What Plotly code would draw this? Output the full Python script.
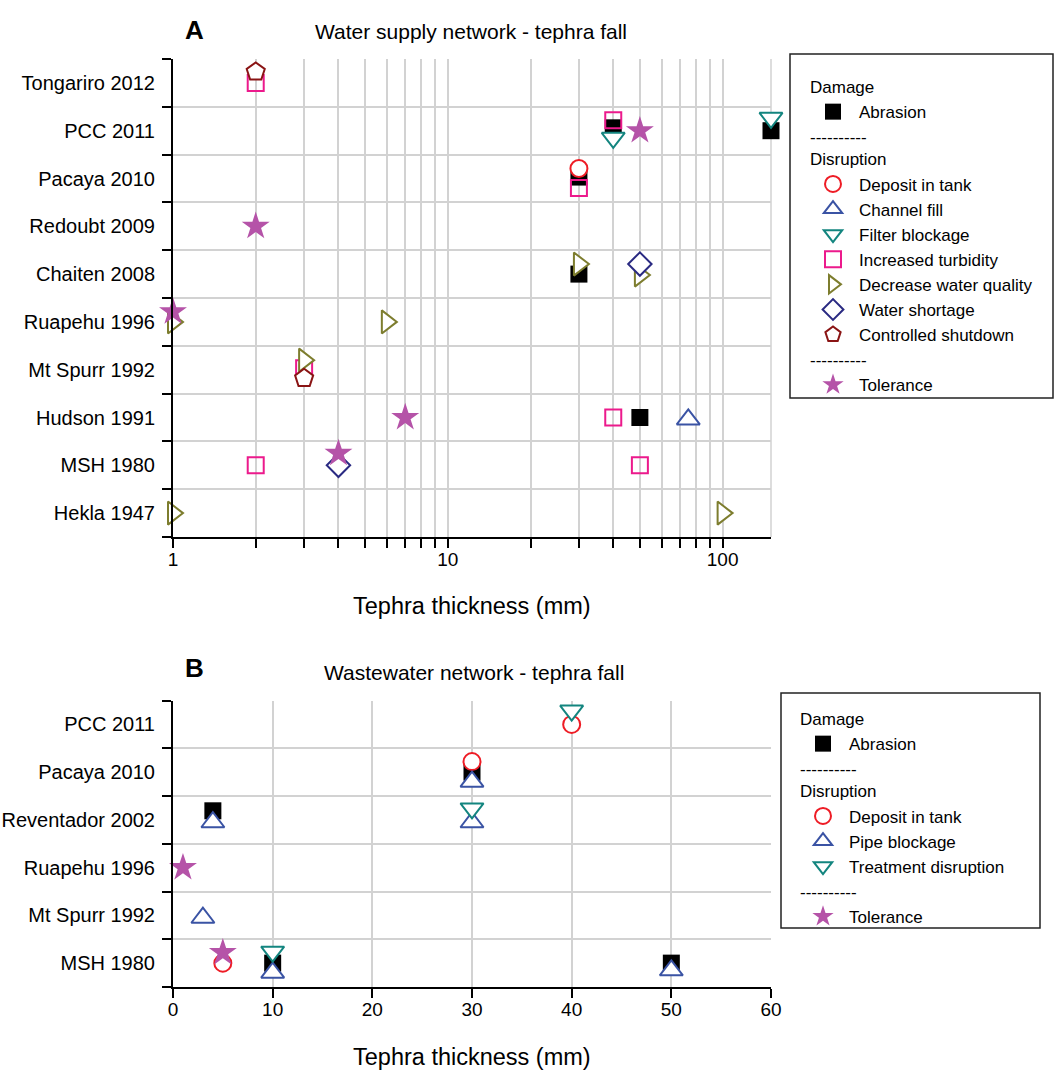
import plotly.graph_objects as go
import numpy as np

# ---------------- data ----------------
# Panel A: water supply network, tephra fall
events_a = ["Tongariro 2012", "PCC 2011", "Pacaya 2010", "Redoubt 2009", "Chaiten 2008",
            "Ruapehu 1996", "Mt Spurr 1992", "Hudson 1991", "MSH 1980", "Hekla 1947"]

abrasion_a_events = ["PCC 2011", "PCC 2011", "Pacaya 2010", "Chaiten 2008", "Hudson 1991"]
abrasion_a_mm = [40, 150, 30, 30, 50]

deposit_a_events = ["Pacaya 2010"]
deposit_a_mm = [30]

channel_a_events = ["Hudson 1991"]
channel_a_mm = [75]

filter_a_events = ["PCC 2011", "PCC 2011"]
filter_a_mm = [40, 150]

turbidity_a_events = ["Tongariro 2012", "PCC 2011", "Pacaya 2010", "Mt Spurr 1992",
                      "Hudson 1991", "MSH 1980", "MSH 1980"]
turbidity_a_mm = [2, 40, 30, 3, 40, 2, 50]

quality_a_events = ["Chaiten 2008", "Chaiten 2008", "Ruapehu 1996", "Ruapehu 1996",
                    "Mt Spurr 1992", "Hekla 1947", "Hekla 1947"]
quality_a_mm = [30, 50, 1, 6, 3, 1, 100]

shortage_a_events = ["Chaiten 2008", "MSH 1980"]
shortage_a_mm = [50, 4]

shutdown_a_events = ["Tongariro 2012", "Mt Spurr 1992"]
shutdown_a_mm = [2, 3]

tolerance_a_events = ["PCC 2011", "Redoubt 2009", "Ruapehu 1996", "Hudson 1991", "MSH 1980"]
tolerance_a_mm = [50, 2, 1, 7, 4]

# Panel B: wastewater network, tephra fall
events_b = ["PCC 2011", "Pacaya 2010", "Reventador 2002", "Ruapehu 1996", "Mt Spurr 1992", "MSH 1980"]

abrasion_b_events = ["Pacaya 2010", "Reventador 2002", "MSH 1980", "MSH 1980"]
abrasion_b_mm = [30, 4, 10, 50]

deposit_b_events = ["PCC 2011", "Pacaya 2010", "MSH 1980"]
deposit_b_mm = [40, 30, 5]

pipe_b_events = ["Pacaya 2010", "Reventador 2002", "Reventador 2002", "Mt Spurr 1992",
                 "MSH 1980", "MSH 1980"]
pipe_b_mm = [30, 4, 30, 3, 10, 50]

treatment_b_events = ["PCC 2011", "Reventador 2002", "MSH 1980"]
treatment_b_mm = [40, 30, 10]

tolerance_b_events = ["Ruapehu 1996", "MSH 1980"]
tolerance_b_mm = [1, 5]

xlabels_a = [1, 10, 100]
xticks_b = [0, 10, 20, 30, 40, 50, 60]

# ---------------- layout helpers ----------------
# vertical dodge (fraction of a row) so coincident symbols stay readable
dodge_a = {
    "abrasion": [0.06, 0.0, 0.03, 0.0, 0.0],
    "deposit": [0.21],
    "channel": [-0.04],
    "filter": [-0.15, 0.27],
    "turbidity": [0.0, 0.22, -0.2, 0.03, 0.0, 0.0, 0.0],
    "quality": [0.21, -0.02, 0.0, 0.0, 0.2, 0.0, 0.0],
    "shortage": [0.21, 0.0],
    "shutdown": [0.23, -0.18],
    "tolerance": [0.0, 0.0, 0.21, 0.0, 0.25],
}
dodge_b = {
    "abrasion": [0.0, 0.19, 0.0, 0.0],
    "deposit": [0.0, 0.22, 0.0],
    "pipe": [-0.2, -0.05, -0.05, -0.05, -0.2, -0.15],
    "treatment": [0.29, 0.24, 0.24],
    "tolerance": [0.0, 0.22],
}

FONT = "Liberation Sans, Arial, Helvetica, sans-serif"
W, H = 1055, 1072

style = {
    "abrasion": dict(symbol="square", size=17, color="#000000", line=dict(width=0)),
    "deposit": dict(symbol="circle", size=17, color="white", line=dict(color="#ee1c25", width=2)),
    "channel": dict(symbol="triangle-up", size=20, color="white", line=dict(color="#3a53a4", width=2)),
    "filter": dict(symbol="triangle-down", size=20, color="white", line=dict(color="#13857f", width=2)),
    "turbidity": dict(symbol="square-open", size=16, color="#ec1a8c", line=dict(color="#ec1a8c", width=2)),
    "quality": dict(symbol="triangle-right", size=20, color="white", line=dict(color="#7d7d2e", width=2)),
    "shortage": dict(symbol="diamond", size=18, color="white", line=dict(color="#2a2a82", width=2)),
    "shutdown": dict(symbol="pentagon", size=19, color="white", line=dict(color="#8a1414", width=2)),
    "tolerance": dict(symbol="star", size=21, color="#b553a8", line=dict(width=0)),
}

LEG_FONT = 17


def row_pos(events, names, dodge):
    n = len(events)
    return [n - events.index(e) - 0.5 + d for e, d in zip(names, dodge)]


fig = go.Figure()


def add(names, mm, events, dodge, key, label, axes, legend, group, gtitle=None):
    xa, ya = axes
    tr = go.Scatter(
        x=mm, y=row_pos(events, names, dodge), mode="markers", name=label,
        marker=style[key], xaxis=xa, yaxis=ya, legend=legend,
        legendgroup=legend + group, cliponaxis=False, hoverinfo="skip",
    )
    if gtitle is not None:
        tr.legendgrouptitle = dict(text=gtitle, font=dict(family=FONT, size=LEG_FONT, color="black"))
    fig.add_trace(tr)


axA = ("x", "y")
add(abrasion_a_events, abrasion_a_mm, events_a, dodge_a["abrasion"], "abrasion", "Abrasion", axA, "legend", "dam", "Damage")
add(deposit_a_events, deposit_a_mm, events_a, dodge_a["deposit"], "deposit", "Deposit in tank", axA, "legend", "dis", "----------<br>Disruption")
add(channel_a_events, channel_a_mm, events_a, dodge_a["channel"], "channel", "Channel fill", axA, "legend", "dis")
add(filter_a_events, filter_a_mm, events_a, dodge_a["filter"], "filter", "Filter blockage", axA, "legend", "dis")
add(turbidity_a_events, turbidity_a_mm, events_a, dodge_a["turbidity"], "turbidity", "Increased turbidity", axA, "legend", "dis")
add(quality_a_events, quality_a_mm, events_a, dodge_a["quality"], "quality", "Decrease water quality", axA, "legend", "dis")
add(shortage_a_events, shortage_a_mm, events_a, dodge_a["shortage"], "shortage", "Water shortage", axA, "legend", "dis")
add(shutdown_a_events, shutdown_a_mm, events_a, dodge_a["shutdown"], "shutdown", "Controlled shutdown", axA, "legend", "dis")
add(tolerance_a_events, tolerance_a_mm, events_a, dodge_a["tolerance"], "tolerance", "Tolerance", axA, "legend", "tol", "----------")

axB = ("x2", "y2")
add(abrasion_b_events, abrasion_b_mm, events_b, dodge_b["abrasion"], "abrasion", "Abrasion", axB, "legend2", "dam", "Damage")
add(deposit_b_events, deposit_b_mm, events_b, dodge_b["deposit"], "deposit", "Deposit in tank", axB, "legend2", "dis", "----------<br>Disruption")
add(pipe_b_events, pipe_b_mm, events_b, dodge_b["pipe"], "channel", "Pipe blockage", axB, "legend2", "dis")
add(treatment_b_events, treatment_b_mm, events_b, dodge_b["treatment"], "filter", "Treatment disruption", axB, "legend2", "dis")
add(tolerance_b_events, tolerance_b_mm, events_b, dodge_b["tolerance"], "tolerance", "Tolerance", axB, "legend2", "tol", "----------")

# ---------------- axes ----------------
L, R = 173, 771
A_TOP, A_BOT = 59, 537
B_TOP, B_BOT = 700.5, 987
xdom = [L / W, R / W]
grid = "#d2d2d2"

# log ticks: every integer multiple within each decade, labelled at the decades only
log_ticks = [m * 10 ** p for p in range(2) for m in range(1, 10)] + [100]
log_text = [str(v) if v in xlabels_a else "" for v in log_ticks]

common_x = dict(ticks="outside", ticklen=9, tickwidth=1.5, tickcolor="black",
                showgrid=True, gridcolor=grid, gridwidth=1.5,
                showline=True, linecolor="black", linewidth=2, zeroline=False,
                tickfont=dict(size=19), automargin=False, fixedrange=True,
                ticklabelstandoff=-5)
common_y = dict(ticks="outside", ticklen=12, tickcolor="rgba(0,0,0,0)", showgrid=False,
                showline=True, linecolor="black", linewidth=2, zeroline=False,
                tickfont=dict(size=20), automargin=False, fixedrange=True)


def band_minor(n):
    return dict(tickvals=list(range(n + 1)), ticks="outside", ticklen=9, tickwidth=1.5,
                tickcolor="black", showgrid=True, gridcolor=grid, gridwidth=1.5)


legend_common = dict(
    xanchor="left", yanchor="top",
    font=dict(family=FONT, size=LEG_FONT, color="black"), tracegroupgap=0,
    itemsizing="trace", itemwidth=42, indentation=2,
    bgcolor="rgba(0,0,0,0)", borderwidth=0,
)

fig.update_layout(
    width=W, height=H, margin=dict(l=0, r=0, t=0, b=0),
    paper_bgcolor="white", plot_bgcolor="white",
    font=dict(family=FONT, size=18, color="black"),
    xaxis=dict(type="log", domain=xdom, range=[0, np.log10(150)], anchor="y",
               tickvals=log_ticks, ticktext=log_text, **common_x),
    yaxis=dict(domain=[1 - A_BOT / H, 1 - A_TOP / H], range=[0, len(events_a)], anchor="x",
               tickvals=[len(events_a) - i - 0.5 for i in range(len(events_a))], ticktext=events_a,
               minor=band_minor(len(events_a)), **common_y),
    xaxis2=dict(domain=xdom, range=[0, 60], anchor="y2", tickvals=xticks_b, **common_x),
    yaxis2=dict(domain=[1 - B_BOT / H, 1 - B_TOP / H], range=[0, len(events_b)], anchor="x2",
                tickvals=[len(events_b) - i - 0.5 for i in range(len(events_b))], ticktext=events_b,
                minor=band_minor(len(events_b)), **common_y),
    legend=dict(x=805 / W, y=1 - 69 / H, **legend_common),
    legend2=dict(x=795 / W, y=1 - 701 / H, **legend_common),
    showlegend=True,
)

# right-hand frame of panel A (log axis ends between gridlines)
fig.add_shape(type="line", xref="x domain", yref="y domain", x0=1, x1=1, y0=0, y1=1,
              line=dict(color=grid, width=1.5), layer="below")

# legend frames
for x0, y0, x1, y1 in [(790, 54, 1053, 398), (781, 693, 1040, 928)]:
    fig.add_shape(type="rect", xref="paper", yref="paper",
                  x0=x0 / W, x1=x1 / W, y0=1 - y1 / H, y1=1 - y0 / H,
                  line=dict(color="#222222", width=1.5), fillcolor="rgba(0,0,0,0)")

# panel letters, titles and axis titles
texts = [
    ("A", 183, 30, 26, True, "left"),
    ("Water supply network - tephra fall", 471, 32, 21, False, "center"),
    ("Tephra thickness (mm)", 472, 606, 23.5, False, "center"),
    ("B", 183, 668, 26, True, "left"),
    ("Wastewater network - tephra fall", 474, 672, 21, False, "center"),
    ("Tephra thickness (mm)", 472, 1057, 23.5, False, "center"),
]
for t, x, y, s, bold, anchor in texts:
    fig.add_annotation(
        text=f"<b>{t}</b>" if bold else t, x=x / W, y=1 - y / H, xref="paper", yref="paper",
        xanchor=anchor, yanchor="middle", showarrow=False,
        font=dict(family=FONT, size=s, color="black"),
    )

fig.write_html("out.html")
